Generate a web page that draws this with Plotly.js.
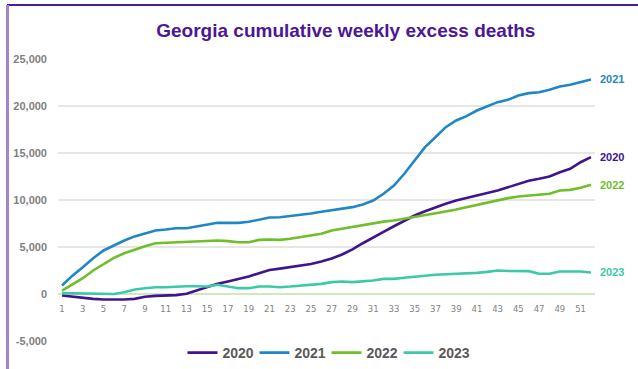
<!DOCTYPE html>
<html>
<head>
<meta charset="utf-8">
<script src="https://cdn.plot.ly/plotly-3.0.1.min.js"></script>
<style>
  html, body { margin: 0; padding: 0; background: #fff; }
  #wrap { position: relative; width: 638px; height: 369px; overflow: hidden; }
  #chart { width: 638px; height: 369px; }
  .frameTop { position: absolute; left: 7px; top: 4px; width: 631px; height: 2px; background: #4a1a99; pointer-events: none; }
  .frameLeft { position: absolute; left: 6px; top: 5px; width: 3px; height: 364px; background: #a084cc; pointer-events: none; }
</style>
</head>
<body>
<div id="wrap">
  <div id="chart"></div>
  <div class="frameTop"></div>
  <div class="frameLeft"></div>
</div>
<script>
const weeks = Array.from({length: 52}, (_, i) => i + 1);
const xTickVals = [1,3,5,7,9,11,13,15,17,19,21,23,25,27,29,31,33,35,37,39,41,43,45,47,49,51];
const yTickVals = [-5000, 0, 5000, 10000, 15000, 20000, 25000];
const yTickText = ["-5,000", "0", "5,000", "10,000", "15,000", "20,000", "25,000"];

const seriesNames = ["2020", "2021", "2022", "2023"];
const seriesColors = ["#41138f", "#1f87c4", "#6fbe2a", "#3ccaa6"];

const deaths2020 = [-160,-300,-450,-520,-580,-600,-580,-520,-300,-200,-160,-120,20,370,720,1080,1330,1580,1860,2210,2550,2700,2850,3000,3200,3450,3780,4200,4750,5400,6040,6620,7210,7800,8350,8800,9240,9600,9950,10240,10480,10750,11010,11350,11720,12050,12250,12500,12960,13320,14020,14560];
const deaths2021 = [905,1950,2850,3800,4630,5200,5690,6130,6470,6750,6860,7000,7000,7200,7320,7570,7570,7570,7680,7930,8140,8170,8280,8420,8570,8750,8900,9100,9240,9520,9950,10660,11540,12790,14200,15620,16680,17750,18460,18920,19520,20000,20410,20660,21120,21370,21470,21720,22080,22260,22540,22820];
const deaths2022 = [370,1000,1680,2500,3210,3850,4340,4750,5090,5400,5440,5480,5510,5560,5620,5690,5620,5510,5510,5760,5800,5760,5870,6050,6220,6400,6760,6950,7210,7380,7530,7700,7820,8000,8170,8350,8530,8780,8990,9240,9490,9750,10020,10200,10370,10480,10550,10660,11010,11080,11300,11620];
const deaths2023 = [90,60,20,0,-10,0,190,480,620,720,720,790,830,830,790,980,830,620,620,790,790,720,790,880,980,1080,1260,1330,1260,1330,1440,1610,1610,1730,1860,1970,2040,2100,2150,2150,2250,2350,2500,2450,2430,2430,2150,2150,2390,2390,2390,2290];

const allSeries = [deaths2020, deaths2021, deaths2022, deaths2023];

const traces = allSeries.map((vals, i) => ({
  type: 'scatter',
  mode: 'lines',
  name: seriesNames[i],
  x: weeks,
  y: vals,
  line: {color: seriesColors[i], width: 2.6},
  hoverinfo: 'skip'
}));

const endLabels = allSeries.map((vals, i) => ({
  x: weeks[weeks.length - 1],
  y: vals[vals.length - 1],
  xref: 'x', yref: 'y',
  text: '<b>' + seriesNames[i] + '</b>',
  showarrow: false,
  xanchor: 'left',
  yanchor: 'middle',
  xshift: 7,
  font: {family: 'Liberation Sans, Arial, sans-serif', size: 11, color: seriesColors[i]}
}));

const yMin = -5000, yMax = 25000;

const layout = {
  width: 638,
  height: 369,
  margin: {l: 58, r: 43, t: 59, b: 28, autoexpand: false},
  paper_bgcolor: '#ffffff',
  plot_bgcolor: '#ffffff',
  showlegend: true,
  title: {
    text: '<b>Georgia cumulative weekly excess deaths</b>',
    x: 0.536, xanchor: 'center', xref: 'paper',
    y: 1 - 30/369, yanchor: 'middle', yref: 'container',
    font: {family: 'Liberation Sans, Arial, sans-serif', size: 19, color: '#4b1796'}
  },
  xaxis: {
    range: [0.61, 52.39],
    tickvals: xTickVals,
    ticktext: xTickVals.map(String),
    tickfont: {family: 'DejaVu Sans, sans-serif', size: 8.5, color: '#7f7f7f'},
    showgrid: false,
    zeroline: false,
    showline: false,
    ticks: '',
    ticklabelstandoff: 8,
    anchor: 'free',
    position: (0 - yMin) / (yMax - yMin),
    automargin: false,
    fixedrange: true
  },
  yaxis: {
    range: [yMin, yMax],
    tickvals: yTickVals,
    ticktext: yTickText,
    tickfont: {family: 'Liberation Sans, Arial, sans-serif', size: 11, color: '#7f7f7f', weight: 'bold'},
    showgrid: true,
    gridcolor: '#e6e6e6',
    gridwidth: 2,
    zeroline: true,
    zerolinecolor: '#cfe8bd',
    zerolinewidth: 2,
    showline: false,
    ticks: '',
    ticklabelstandoff: 10,
    automargin: false,
    fixedrange: true
  },
  legend: {
    orientation: 'h',
    x: 0.5, xanchor: 'center',
    y: 1 - 353/369, yanchor: 'middle', yref: 'container',
    font: {family: 'Liberation Sans, Arial, sans-serif', size: 14, color: '#595959', weight: 'bold'},
    itemwidth: 30,
    entrywidth: 27,
    entrywidthmode: 'pixels',
    tracegroupgap: 0,
    bgcolor: 'rgba(0,0,0,0)'
  },
  annotations: endLabels
};

Plotly.newPlot('chart', traces, layout, {staticPlot: true, displayModeBar: false});
</script>
</body>
</html>
